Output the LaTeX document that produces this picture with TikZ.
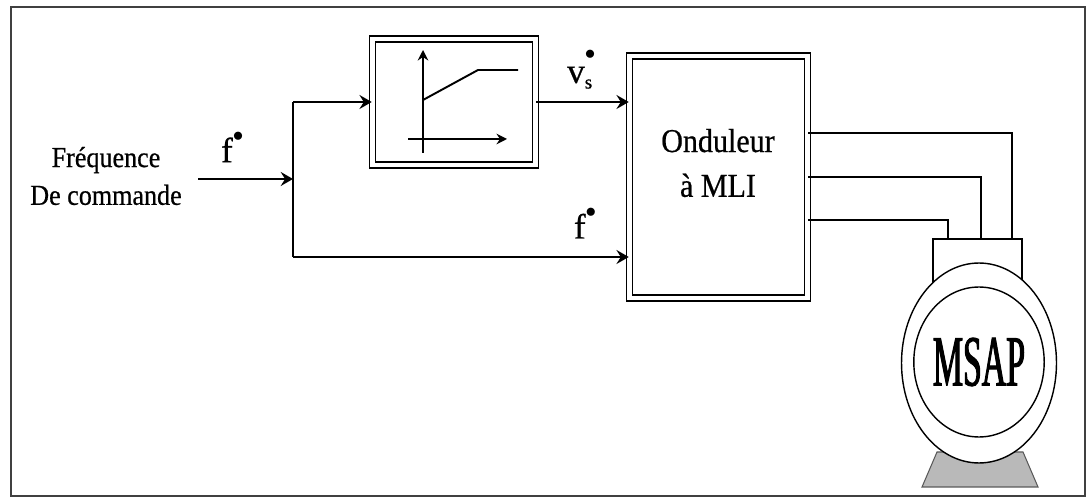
\documentclass[tikz,border=0pt]{standalone}
\usepackage{fontspec}
\setmainfont{Liberation Serif}[FakeBold=0.6]
\newfontfamily\etroit[FakeStretch=0.9,FakeBold=0.6]{Liberation Serif}
\newfontfamily\tresetroit[FakeStretch=0.47,FakeBold=1.4]{Liberation Serif}
\usepackage{tikz}
\usetikzlibrary{arrows.meta,shapes.geometric}

% point de consigne (exposant)
\newcommand{\pointsup}{\raisebox{1.3ex}{\fontsize{12}{12}\selectfont$\bullet$}}

\begin{document}
\begin{tikzpicture}[x=0.02cm,y=-0.02cm,line width=1.1pt,
  fleche/.style={-{Stealth[length=7pt,width=8pt,inset=2.5pt]}},
  axe/.style={-{Stealth[length=6pt,width=6pt,inset=2pt]}},
  bloc/.style={draw,double,double distance=2.5pt,line width=0.9pt,fill=white,inner sep=0pt},
  lbl/.style={font=\fontsize{20}{20}\selectfont,inner sep=0pt}]
  \useasboundingbox (0,0) rectangle (1092,499);
  % cadre
  \draw[line width=1.3pt,black!75] (11,7) rectangle (1085,496);

  %Blocs
  \node[bloc,minimum width=3.26cm,minimum height=2.52cm] (vf) at (454,102) {};
  \node[bloc,minimum width=3.56cm,minimum height=4.84cm] (ond) at (718.5,177) {};
  \node[font=\etroit\fontsize{19}{25.5}\selectfont,align=center] (ondtxt) at (718,163) {Onduleur\\à MLI};
  \node[font=\etroit\fontsize{16.5}{21.5}\selectfont,align=center] (freq) at (106,176) {Fréquence\\De commande};

  % loi V/f
  \draw[axe] (423,153) -- (423,50);
  \draw[axe] (408,139) -- (507,139);
  \draw (423,100) -- (478,70) -- (518,70);

  %Koordinaten der Verzweigung
  \coordinate (e) at (198,179);
  \coordinate (b) at (293,179);
  \coordinate (h) at (293,102);
  \coordinate (bas) at (293,257);

  \draw[fleche] (e) -- node[lbl,pos=0.36,above=9pt] {f\pointsup} (b);
  \draw (h) -- (bas);
  \draw[fleche] (h) -- (vf.west);
  \draw[fleche] (vf.east) -- node[lbl,pos=0.47,above=7pt]
    {v\rlap{\raisebox{1.45ex}{\fontsize{12}{12}\selectfont$\bullet$}}\raisebox{-0.35ex}{\fontsize{11}{11}\selectfont s}} (vf.east -| ond.west);
  \draw[fleche] (bas) -- node[lbl,pos=0.87,above=10pt] {f\pointsup} (bas -| ond.west);

  % moteur
  \filldraw[fill=gray!55,draw=gray!70!black,line width=0.6pt]
    (922,487) -- (937,452) -- (1023,452) -- (1038,487) -- cycle;
  \draw (ond.east |- 0,133) -| (1012,238);
  \draw (ond.east |- 0,177) -| (981,238);
  \draw (ond.east |- 0,220) -| (948,238);
  \node[draw,fill=white,line width=0.9pt,minimum width=1.78cm,minimum height=1.04cm,anchor=north] (born) at (977.5,238) {};
  \node[ellipse,draw,fill=white,line width=0.8pt,inner sep=0pt,minimum width=3.1cm,minimum height=4cm] (moteur) at (979,363) {};
  \node[ellipse,draw,line width=0.8pt,inner sep=0pt,minimum width=2.36cm,minimum height=3cm,
    font=\tresetroit\fontsize{41}{41}\selectfont] (msap) at (979,362) {MSAP};
\end{tikzpicture}
\end{document}
